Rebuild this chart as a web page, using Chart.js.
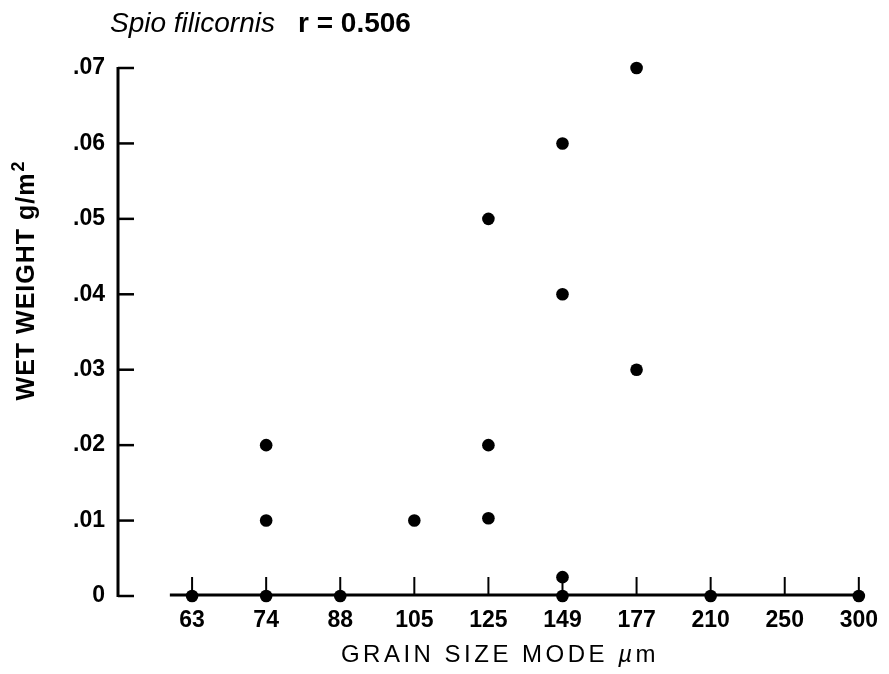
<!DOCTYPE html>
<html>
<head>
<meta charset="utf-8">
<title>Spio filicornis — wet weight vs grain size</title>
<style>
  html, body { margin: 0; padding: 0; background: #fff; }
  #wrap { width: 889px; height: 674px; }
</style>
<script src="https://cdn.jsdelivr.net/npm/chart.js@4.4.1/dist/chart.umd.min.js"></script>
</head>
<body>
<div id="wrap"><canvas id="chart" width="889" height="674"></canvas></div>
<script>
// grain size classes (µm), evenly spaced on the axis
const grainSizes = ['63', '74', '88', '105', '125', '149', '177', '210', '250', '300'];

// y axis ticks (g/m2) and their printed labels
const weightTickValues = [0, 0.01, 0.02, 0.03, 0.04, 0.05, 0.06, 0.07];
const weightTickLabels = ['0', '.01', '.02', '.03', '.04', '.05', '.06', '.07'];

// one entry per sample: grain size class and wet weight
const sampleGrain = ['63', '74', '74', '74', '88', '105', '125', '125', '125', '149', '149', '149', '149', '177', '177', '210', '300'];
const wetWeight  = [0, 0, 0.01, 0.02, 0, 0.01, 0.0103, 0.02, 0.05, 0, 0.0025, 0.04, 0.06, 0.03, 0.07, 0, 0];

const FONT = '"Liberation Sans", Arial, Helvetica, sans-serif';
const X_AXIS_START = -0.3;   // the baseline starts just left of the first class

const points = sampleGrain.map((g, i) => ({ x: grainSizes.indexOf(g), y: wetWeight[i] }));

// axis lines with inward ticks, drawn under the dots
const axesFrame = {
  id: 'axesFrame',
  beforeDatasetsDraw(chart) {
    const { ctx, chartArea, scales: { x, y } } = chart;
    const y0 = y.getPixelForValue(0);
    ctx.save();
    ctx.strokeStyle = '#000';
    ctx.lineCap = 'butt';

    // vertical axis
    ctx.lineWidth = 3;
    ctx.beginPath();
    ctx.moveTo(chartArea.left, y.getPixelForValue(0.07) - 1);
    ctx.lineTo(chartArea.left, y0 + 1);
    ctx.stroke();

    ctx.lineWidth = 2.5;
    weightTickValues.forEach(v => {
      const py = y.getPixelForValue(v);
      ctx.beginPath();
      ctx.moveTo(chartArea.left, py);
      ctx.lineTo(chartArea.left + 16, py);
      ctx.stroke();
    });

    // horizontal baseline
    ctx.lineWidth = 3;
    ctx.beginPath();
    ctx.moveTo(x.getPixelForValue(X_AXIS_START), y0 - 1);
    ctx.lineTo(x.getPixelForValue(grainSizes.length - 1) + 2, y0 - 1);
    ctx.stroke();

    ctx.lineWidth = 2;
    grainSizes.forEach((_, i) => {
      const px = x.getPixelForValue(i);
      ctx.beginPath();
      ctx.moveTo(px, y0 - 1);
      ctx.lineTo(px, y0 - 19);
      ctx.stroke();
    });
    ctx.restore();
  }
};

// headline and axis titles (mixed italic / bold runs)
const titles = {
  id: 'titles',
  afterDraw(chart) {
    const { ctx } = chart;
    ctx.save();
    ctx.fillStyle = '#000';
    ctx.textBaseline = 'alphabetic';

    // headline
    ctx.textAlign = 'left';
    ctx.font = 'italic 28px ' + FONT;
    ctx.fillText('Spio filicornis', 110, 32);
    ctx.font = 'bold 28px ' + FONT;
    ctx.fillText('r = 0.506', 298, 32);

    // x title
    ctx.letterSpacing = '3.5px';
    ctx.font = '24px ' + FONT;
    const part1 = 'GRAIN SIZE MODE ';
    const w1 = ctx.measureText(part1).width;
    ctx.font = 'italic 24px ' + FONT;
    const wMu = ctx.measureText('\u00b5').width;
    ctx.font = '24px ' + FONT;
    const wM = ctx.measureText('m').width;
    let tx = 500 - (w1 + wMu + wM) / 2;
    ctx.fillText(part1, tx, 662);
    tx += w1;
    ctx.font = 'italic 24px ' + FONT;
    ctx.fillText('\u00b5', tx, 662);
    tx += wMu;
    ctx.font = '24px ' + FONT;
    ctx.fillText('m', tx, 662);
    ctx.letterSpacing = '0px';

    // y title, rotated
    ctx.translate(34, 281);
    ctx.rotate(-Math.PI / 2);
    ctx.letterSpacing = '1px';
    ctx.font = 'bold 25px ' + FONT;
    const main = 'WET WEIGHT g/m';
    const wMain = ctx.measureText(main).width;
    ctx.font = 'bold 18px ' + FONT;
    const wSup = ctx.measureText('2').width;
    const sx = -(wMain + wSup) / 2;
    ctx.font = 'bold 25px ' + FONT;
    ctx.fillText(main, sx, 0);
    ctx.font = 'bold 18px ' + FONT;
    ctx.fillText('2', sx + wMain + 1, -10);
    ctx.restore();
  }
};

new Chart(document.getElementById('chart'), {
  type: 'scatter',
  data: {
    datasets: [{
      label: 'Spio filicornis',
      data: points,
      pointRadius: 6.3,
      pointHoverRadius: 6.3,
      pointBackgroundColor: '#000',
      pointBorderWidth: 0,
      clip: false
    }]
  },
  options: {
    responsive: false,
    animation: false,
    devicePixelRatio: 1,
    layout: { padding: { top: 68, right: 23, bottom: 0, left: 0 } },
    plugins: {
      legend: { display: false },
      tooltip: { enabled: false }
    },
    scales: {
      x: {
        type: 'linear',
        min: -1,
        max: grainSizes.length - 1,
        afterBuildTicks: s => { s.ticks = grainSizes.map((_, i) => ({ value: i })); },
        afterFit: s => { s.height = 78; },
        ticks: {
          autoSkip: false,
          maxRotation: 0,
          callback: v => grainSizes[v],
          color: '#000',
          padding: 11,
          font: { family: FONT, size: 23, weight: 'bold' }
        },
        grid: { display: false, drawTicks: false },
        border: { display: false }
      },
      y: {
        min: 0,
        max: 0.07,
        afterBuildTicks: s => { s.ticks = weightTickValues.map(v => ({ value: v })); },
        afterFit: s => { s.width = 118; },
        ticks: {
          callback: (v, i) => weightTickLabels[i],
          color: '#000',
          padding: 13,
          font: { family: FONT, size: 23, weight: 'bold' }
        },
        grid: { display: false, drawTicks: false },
        border: { display: false }
      }
    }
  },
  plugins: [axesFrame, titles]
});
</script>
</body>
</html>
